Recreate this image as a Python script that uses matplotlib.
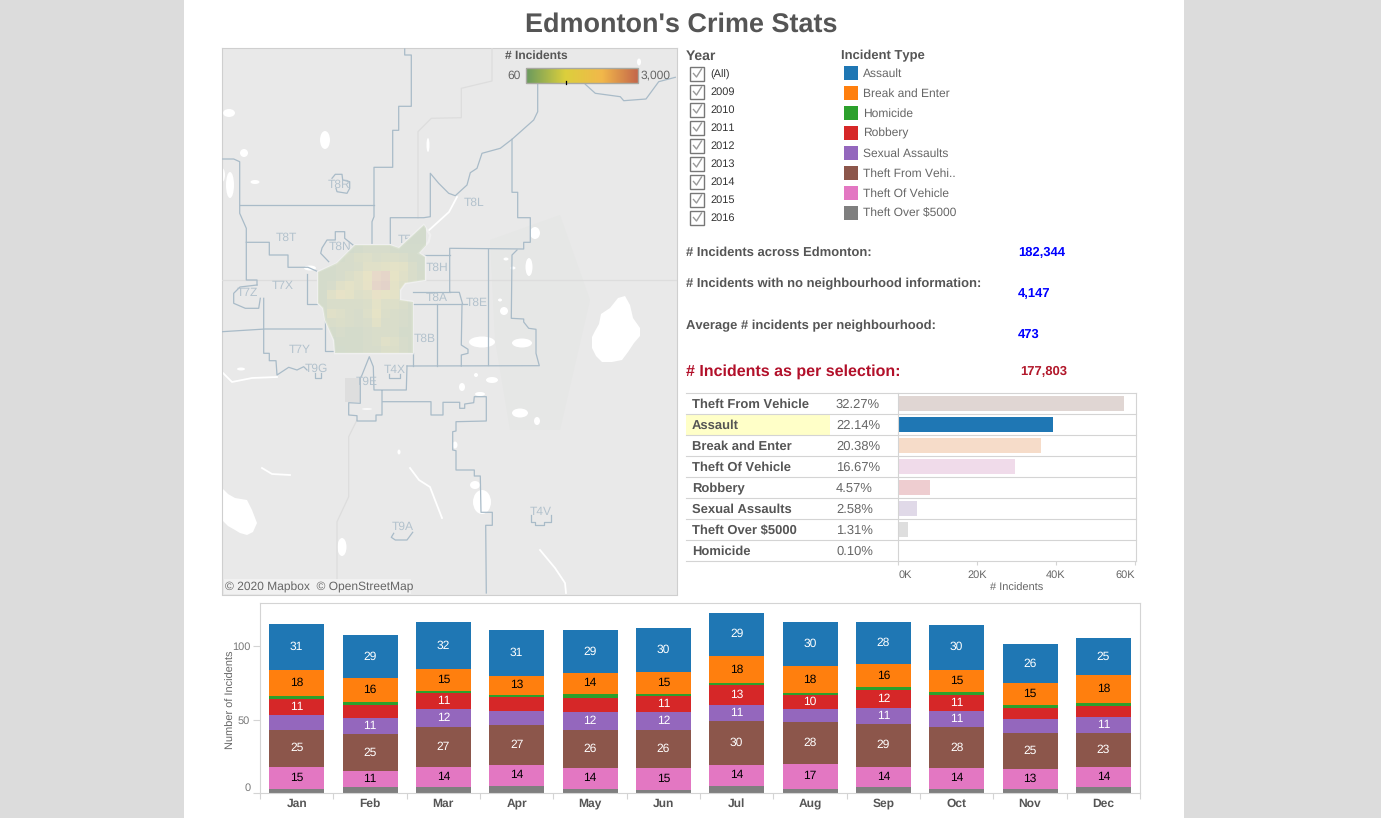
import numpy as np
import matplotlib
matplotlib.use('Agg')
import matplotlib.pyplot as plt
from matplotlib.colors import LinearSegmentedColormap, Normalize
from matplotlib.patches import Ellipse, Polygon, Rectangle

plt.rcParams['font.family'] = ['Liberation Sans', 'DejaVu Sans']
plt.rcParams['text.hinting'] = 'no_hinting'
plt.rcParams['text.hinting_factor'] = 1

W, H = 1381, 818

months = ['Jan', 'Feb', 'Mar', 'Apr', 'May', 'Jun', 'Jul', 'Aug', 'Sep', 'Oct', 'Nov', 'Dec']
years = ['(All)', '2009', '2010', '2011', '2012', '2013', '2014', '2015', '2016']

# stacked monthly bars, bottom to top (labels only show from 10 up)
theft_over = [3, 4, 4, 5, 3, 2, 5, 3, 4, 3, 3, 4]
theft_of_vehicle = [15, 11, 14, 14, 14, 15, 14, 17, 14, 14, 13, 14]
theft_from_vehicle = [25, 25, 27, 27, 26, 26, 30, 28, 29, 28, 25, 23]
sexual_assaults = [9.9, 11, 12, 9.5, 12, 12, 11, 9, 11, 11, 9.5, 11]
robbery = [11, 9, 11, 9.9, 9.9, 11, 13.4, 10, 12, 11, 7.5, 7.5]
homicide = [2, 2, 1.4, 1.4, 2.7, 1.4, 1.5, 0.7, 2, 2, 2, 2]
break_enter = [18, 16, 15, 13, 14, 15, 18.4, 18.4, 16, 15, 15, 18.5]
assault = [31, 29.5, 32, 31, 29.4, 30, 29.4, 30.4, 28.5, 30.4, 26.5, 25.6]

type_names = ['Assault', 'Break and Enter', 'Homicide', 'Robbery', 'Sexual Assaults',
              'Theft From Vehi..', 'Theft Of Vehicle', 'Theft Over $5000']
type_colors = ['#1f77b4', '#ff7f0e', '#2ca02c', '#d62728', '#9467bd', '#8c564b', '#e377c2', '#7f7f7f']

# ranking table
rank_names = ['Theft From Vehicle', 'Assault', 'Break and Enter', 'Theft Of Vehicle',
              'Robbery', 'Sexual Assaults', 'Theft Over $5000', 'Homicide']
rank_pct = ['32.27%', '22.14%', '20.38%', '16.67%', '4.57%', '2.58%', '1.31%', '0.10%']
rank_counts = [57377, 39366, 36236, 29640, 8126, 4587, 2329, 178]
rank_colors = ['#e0d6d3', '#1f77b4', '#f6dcc9', '#f0dbea', '#eecdd0', '#e0d9e8', '#dedede', '#eef6ee']

# map geometry, in map units
map_borders = [
    [(404.7, 49), (404.7, 55), (411.3, 55), (411.3, 106.3), (398.7, 106.3), (398.7, 130.3), (392.7, 130.3),
     (392.7, 167.3), (374, 167.3), (374, 216.7), (372, 221.7), (372, 245)],
    [(239.7, 205.3), (374, 205.3)],
    [(222, 159), (233.7, 159), (239.7, 161.7), (239.7, 213.3), (246.3, 228.3), (246.3, 280), (257, 280), (257, 285)],
    [(246.3, 242.3), (269.3, 242.3), (269.3, 255), (288, 255), (288, 267.3), (308, 267.3), (318, 271.7)],
    [(306.7, 274.3), (306.7, 304.3), (318, 304.3)],
    [(353, 245), (344.7, 238.3), (344.7, 231.7), (335.3, 231.7), (335.3, 240), (327, 240), (322, 248),
     (320.7, 253.3), (328.7, 261.7)],
    [(332, 178.3), (335.3, 174.3), (342, 174.3), (342.7, 180), (349.7, 181.7), (349.7, 188.3), (347, 193.3),
     (337, 191.7), (336, 188.3)],
    [(537.7, 83.3), (537.7, 111.7), (533.7, 120), (512, 139.3), (500.3, 148.3), (482, 153.3), (477, 168.3),
     (470.3, 172.7), (467, 185), (455.3, 195.7), (448.7, 193.3), (438.7, 183.3), (430.3, 173.3), (430.3, 216.7),
     (423.7, 217.7), (390.3, 217.7), (390.3, 245)],
    [(512, 139.3), (512, 192.3), (517.7, 192.3), (517.7, 217.7), (530.3, 217.7), (530.3, 242.3), (523.7, 242.3),
     (523.7, 249), (449.7, 248.3), (449.7, 292.3), (459.3, 292.3), (462.7, 304.3)],
    [(412.7, 292.3), (449.7, 292.3)],
    [(412.7, 304.3), (467, 304.3)],
    [(423.7, 255), (449.7, 255)],
    [(487.7, 249), (487.7, 365)],
    [(517, 250), (512, 255), (511.3, 318.3), (523.7, 319), (523.7, 322), (528.7, 328.3), (536, 329.3),
     (536, 353.3), (539.3, 365.7), (407, 366)],
    [(437, 304.3), (437, 366)],
    [(462, 304.3), (461.3, 345), (468, 349.3), (468, 353.3), (461.3, 355), (461.3, 366)],
    [(412.7, 353), (412.7, 366)],
    [(407, 366), (406.3, 390), (374, 390), (373.3, 366.7), (369.3, 356.7), (362, 375), (360.3, 378.3),
     (360.3, 403.3), (348.7, 402.7), (348.7, 415), (357, 415.7), (357, 421), (376, 421), (376, 415), (382, 415),
     (382, 391)],
    [(382.7, 401.7), (431, 401.7), (431, 415), (443, 415), (443, 402.3), (459.7, 402.3), (459.7, 408.3),
     (464.7, 408.3), (464.7, 404), (473.7, 402.7), (474.3, 396.7), (486.3, 396.7), (486.3, 421), (456, 421.7),
     (456, 431), (452.7, 431.7), (452.7, 450), (456, 450.7), (456, 470), (474.3, 470), (474.3, 476), (480.3, 476),
     (481, 512.3), (492.3, 512.3), (492.3, 525.3), (485.7, 525.3), (486.3, 593)],
    [(585.3, 84.3), (595.3, 93.3), (620.3, 96.7), (623.7, 100.7), (646, 99), (658.7, 81.7), (675.3, 77.3)],
    [(263.7, 298.3), (263.7, 353.3), (269.3, 353.3), (269.3, 360.7), (276, 360.7), (277, 375), (288.7, 367.3),
     (297, 370), (303.7, 366.7), (307, 370)],
    [(222, 331.7), (265.3, 329), (322, 329)],
    [(325.3, 320), (325.3, 350.7), (333.7, 350.7)],
    [(257, 285), (240, 287), (233.7, 293.3), (233.7, 303.3), (245.3, 308.3), (258.7, 308.3), (260.3, 298.3)],
    [(314.7, 372.7), (314.7, 378.3), (320.7, 378.3), (320.7, 372.7)],
    [(388.7, 374), (388.7, 378.3), (400.3, 378.3), (400.3, 374)],
    [(531.3, 515), (531.3, 521.7), (535.3, 521.7), (535.3, 525), (543.7, 525), (543.7, 521.7), (551.3, 521.7),
     (551.3, 515)],
    [(393.7, 533.3), (391.3, 537.3), (395.3, 540), (407, 540), (412.7, 532.3)],
]
map_roads = [
    [(357, 420), (348.7, 436.7), (348.7, 496.7), (337, 521.7), (337, 593)],
    [(492, 48), (492, 81), (461.3, 88.3), (461.3, 117.7), (431.3, 118.3), (418, 131.7), (418, 218)],
    [(222, 280), (677, 280)],
]
map_rivers = [
    [(410, 468), (419, 480), (430, 487), (435, 500), (442, 518)],
    [(540, 550), (555, 568), (565, 583), (566, 593)],
    [(222, 372), (232, 382), (252, 378), (277, 377)],
    [(457, 197), (449, 212), (427, 232)],
    [(262, 468), (272, 474), (290, 475)],
]
map_lakes = [
    [(601, 314), (610, 308), (618, 298), (625, 296), (630, 305), (633, 318), (640, 328), (640, 336), (634, 343),
     (628, 352), (622, 360), (612, 362), (602, 362), (596, 356), (592, 348), (592, 337), (595, 331), (599, 324)],
    [(222, 488), (228, 494), (235, 498), (247, 500), (252, 510), (257, 523), (253, 532), (247, 535), (240, 533),
     (235, 530), (228, 526), (222, 520)],
]
map_ponds = [
    (325, 140, 10, 18), (244, 153, 8, 8), (229, 113, 12, 8), (230, 185, 8, 26), (255, 182, 9, 4),
    (535, 233, 10, 12), (529, 267, 7, 18), (504, 311, 8, 8), (482, 342, 26, 11), (522, 343, 20, 9),
    (492, 380, 12, 6), (520, 413, 16, 9), (537, 421, 6, 8), (462, 387, 6, 8), (480, 394, 10, 4),
    (475, 485, 10, 8), (482, 502, 18, 24), (342, 547, 9, 18), (241, 369, 8, 3), (367, 409, 10, 1.5),
    (639, 62, 4, 7), (428, 145, 3, 14), (506, 259, 5, 3), (310, 268, 12, 5), (222, 175, 6, 14),
    (513, 268, 5, 3), (500, 300, 4, 3), (476, 375, 4, 4), (455, 445, 5, 7), (399, 452, 3, 5),
]
map_codes = [('T8R', 339, 184), ('T8L', 474, 202), ('T8T', 286, 237), ('T8N', 340, 246), ('T7X', 283, 285),
             ('T7Z', 247, 292), ('T8H', 437, 267), ('T8A', 437, 297), ('T8E', 477, 302), ('T8B', 425, 338),
             ('T7Y', 300, 349), ('T9G', 316, 368), ('T9E', 367, 381), ('T4X', 395, 369), ('T4V', 541, 511),
             ('T9A', 403, 526), ('T5', 405, 239)]
city_outline = [(318, 271.7), (337, 263.3), (355.3, 245), (390.3, 245), (398.7, 248.3), (423.7, 225), (430.3, 235),
                (428.7, 241.7), (418.7, 253.3), (425.3, 256.7), (425.3, 280), (405.3, 283.3), (400.3, 290),
                (400.3, 300), (412.7, 301.7), (412.7, 353.3), (335, 353.3), (333.7, 340), (325.3, 320), (323, 308),
                (318, 303.3)]
# incidents per block of the city, rows north to south
city_grid = [
    [150, 150, 150, 150, 150, 150, 150, 150, 150, 150, 200, 200],
    [150, 150, 150, 150, 150, 150, 200, 200, 200, 200, 200, 200],
    [200, 200, 200, 200, 300, 400, 400, 400, 300, 250, 250, 250],
    [200, 200, 300, 400, 600, 700, 500, 600, 600, 500, 300, 250],
    [250, 300, 400, 400, 500, 800, 800, 900, 1000, 900, 500, 250],
    [300, 300, 400, 600, 800, 1200, 2400, 2600, 1100, 800, 500, 300],
    [300, 400, 800, 1000, 800, 1400, 2600, 2800, 1000, 700, 400, 300],
    [300, 800, 1300, 1000, 700, 800, 1500, 1100, 1000, 500, 300, 300],
    [300, 500, 500, 500, 500, 600, 1000, 700, 700, 500, 300, 300],
    [300, 800, 700, 500, 400, 700, 1100, 600, 500, 400, 300, 300],
    [300, 500, 600, 500, 400, 500, 900, 500, 500, 400, 300, 300],
    [250, 300, 400, 300, 300, 400, 500, 500, 500, 300, 300, 300],
    [200, 200, 300, 300, 300, 400, 500, 800, 700, 400, 300, 300],
    [200, 200, 250, 300, 300, 400, 400, 600, 600, 400, 300, 300],
]

stat_labels = ['# Incidents across Edmonton:', '# Incidents with no neighbourhood information:',
               'Average # incidents per neighbourhood:']
stat_values = ['182,344', '4,147', '473']

GREY = '#555555'
SOFT = '#666666'
LINE = '#d4d4d4'


def px(size):
    # font size in screen pixels to points
    return size * 72.0 / 100.0


def axes_px(fig, left, top, right, bottom):
    return fig.add_axes([left / W, 1 - bottom / H, (right - left) / W, (bottom - top) / H])


def draw_map(fig):
    ax = axes_px(fig, 222, 48, 676.5, 594.5)
    ax.set_facecolor('#e9e9e9')
    ax.set_xticks([])
    ax.set_yticks([])
    for spine in ax.spines.values():
        spine.set_color('#cfcfcf')

    ax.add_patch(Polygon([(490, 240), (560, 215), (590, 300), (560, 430), (510, 430), (495, 340)],
                         fc='#e6e7e6', ec='none', zorder=1))
    ax.add_patch(Rectangle((345, 378), 15, 24, fc='#dedede', ec='none', zorder=1))

    for lake in map_lakes:
        ax.add_patch(Polygon(lake, fc='white', ec='none', zorder=2))
    for x, y, w, h in map_ponds:
        ax.add_patch(Ellipse((x, y), w, h, fc='white', ec='none', zorder=2))
    for line in map_rivers:
        xs, ys = zip(*line)
        ax.plot(xs, ys, color='white', lw=1.3, zorder=2)
    for line in map_roads:
        xs, ys = zip(*line)
        ax.plot(xs, ys, color='#dddddd', lw=0.9, zorder=3)
    for line in map_borders:
        xs, ys = zip(*line)
        ax.plot(xs, ys, color='#a9bbc8', lw=0.9, zorder=4)
    for code, x, y in map_codes:
        ax.text(x, y + 1, code, color='#b3c2cd', fontsize=px(12), ha='center', va='center', zorder=5)

    cmap = LinearSegmentedColormap.from_list('incidents', [(0, '#6a9a5e'), (0.35, '#dccf3c'),
                                                           (0.68, '#f2b84b'), (1, '#c4674a')])
    grid = np.array(city_grid, dtype=float)
    xs = 318 + 9.0 * np.arange(grid.shape[1] + 1)
    ys = 225 + 9.3 * np.arange(grid.shape[0] + 1)
    shape = Polygon(city_outline, fc='#e9e9e9', ec='#f0f0f0', lw=1.6, zorder=6)
    ax.add_patch(shape)
    mesh = ax.pcolormesh(xs, ys, grid, cmap=cmap, norm=Normalize(60, 3000), alpha=0.2, zorder=7,
                         edgecolors='none', linewidth=0)
    mesh.set_clip_path(shape)

    # attribution and colour legend
    ax.add_patch(Rectangle((224, 579), 187, 15, fc='#f2f2f2', ec='none', alpha=0.9, zorder=8))
    ax.text(225, 587, '\u00a9 2020 Mapbox  \u00a9 OpenStreetMap', color=SOFT, fontsize=px(11.6),
            va='center', zorder=9)
    ax.text(505, 55.5, '# Incidents', color=GREY, fontsize=px(12), fontweight='bold', va='center', zorder=9)
    ax.text(521, 75.5, '60', color=SOFT, fontsize=px(12.2), ha='right', va='center', zorder=9)
    ax.text(641, 75.5, '3,000', color=SOFT, fontsize=px(12.2), va='center', zorder=9)
    ax.imshow(np.linspace(0, 1, 200).reshape(1, -1), cmap=cmap, extent=(525.5, 637.5, 83, 68.5), aspect='auto',
              zorder=9)
    ax.add_patch(Rectangle((525.5, 68.5), 112, 14.5, fc='none', ec='#a8a8a0', lw=1, zorder=10))
    ax.plot([565.5, 565.5], [81, 84], color='black', lw=0.9, zorder=11)
    ax.set_xlim(222, 676.5)
    ax.set_ylim(594.5, 48)


def draw_filters(ax):
    ax.text(686, 56, 'Year', color=GREY, fontsize=px(13.5), fontweight='bold', va='center')
    for i, year in enumerate(years):
        y = 74 + 18 * i
        ax.add_patch(Rectangle((690.5, y - 7.5), 13.5, 14, fc='white', ec='#777777', lw=1))
        ax.plot([693.5, 696.5, 701.5], [y - 0.5, y + 3, y - 5], color='#999999', lw=1)
        ax.text(710, y + 0.5, year, color='#333333', fontsize=px(10.8), va='center')

    ax.text(841, 56, 'Incident Type', color=GREY, fontsize=px(13.4), fontweight='bold', va='center')
    for i, (name, color) in enumerate(zip(type_names, type_colors)):
        y = 73 + 20 * i
        ax.add_patch(Rectangle((844, y - 7), 14, 14, fc=color, ec='none'))
        ax.text(863, y + 0.5, name, color=SOFT, fontsize=px(12), va='center')


def draw_stats(ax):
    label_y = [252.5, 284, 325.5]
    value_y = [252.5, 294, 334]
    label_size = [12.8, 13.2, 13.2]
    for label, value, ly, vy, size in zip(stat_labels, stat_values, label_y, value_y, label_size):
        ax.text(686, ly, label, color=GREY, fontsize=px(size), fontweight='bold', va='center')
        ax.text(1018, vy, value, color='#0000ff', fontsize=px(12.6), fontweight='bold', va='center')
    ax.text(686, 372, '# Incidents as per selection:', color='#b2102a', fontsize=px(16), fontweight='bold',
            va='center')
    ax.text(1020.5, 372, '177,803', color='#b2182b', fontsize=px(12.6), fontweight='bold', va='center')


def draw_rank_table(fig, ax):
    row_h = 21.0
    top = 392.5
    ax.add_patch(Rectangle((686, top + row_h), 144, row_h, fc='#ffffc8', ec='none', zorder=0))
    for i in range(len(rank_names) + 1):
        ax.plot([686, 1136], [top + 0.5 + i * row_h] * 2, color=LINE, lw=0.8, zorder=1)
    for i, (name, pct) in enumerate(zip(rank_names, rank_pct)):
        y = top + (i + 0.5) * row_h + 1.5
        ax.text(692, y, name, color=GREY, fontsize=px(12.8), fontweight='bold', va='center')
        ax.text(836, y, pct, color=SOFT, fontsize=px(12.6), va='center')

    bars = axes_px(fig, 898.5, top + 0.5, 1136, top + 0.5 + 8 * row_h)
    bars.patch.set_alpha(0)
    bars.barh(np.arange(len(rank_names)), rank_counts, height=0.76, color=rank_colors, zorder=2)
    bars.set_ylim(7.5, -0.5)
    bars.set_xlim(0, 237.5 / 78.7 * 20000)
    bars.set_yticks([])
    bars.set_xticks([0, 20000, 40000, 60000])
    bars.set_xticklabels(['0K', '20K', '40K', '60K'], color=SOFT, fontsize=px(11.5))
    bars.get_xticklabels()[0].set_ha('left')
    bars.get_xticklabels()[3].set_ha('right')
    bars.tick_params(axis='x', length=3, width=0.8, color=LINE, pad=3.5)
    for side in ['top', 'bottom']:
        bars.spines[side].set_visible(False)
    for side in ['left', 'right']:
        bars.spines[side].set_color(LINE)
        bars.spines[side].set_linewidth(0.8)
    ax.text(1016.7, 588, '# Incidents', color=SOFT, fontsize=px(11), ha='center', va='center')


def draw_months(fig):
    ax = axes_px(fig, 260, 603, 1140, 793)
    x = np.arange(len(months))
    stack = [
        (theft_over, type_colors[7], 'white'),
        (theft_of_vehicle, type_colors[6], 'black'),
        (theft_from_vehicle, type_colors[5], 'white'),
        (sexual_assaults, type_colors[4], 'white'),
        (robbery, type_colors[3], 'white'),
        (homicide, type_colors[2], 'white'),
        (break_enter, type_colors[1], 'black'),
        (assault, type_colors[0], 'white'),
    ]
    bottom = np.zeros(len(months))
    for values, color, text_color in stack:
        values = np.array(values, dtype=float)
        ax.bar(x, values, width=0.75, bottom=bottom, color=color, linewidth=0)
        for i, v in enumerate(values):
            if v >= 10:
                ax.text(x[i], bottom[i] + v / 2, '%d' % v, color=text_color, fontsize=px(12),
                        ha='center', va='center')
        bottom += values

    ax.set_xlim(-0.5, 11.5)
    ax.set_ylim(0, 190.0 / 1.47)
    ax.set_yticks([0, 50, 100])
    ax.tick_params(axis='y', length=5, width=0.8, color=LINE, labelcolor='#777777', labelsize=px(11.3), pad=2)
    ax.get_yticklabels()[0].set_va('bottom')
    ax.set_xticks(np.arange(-0.5, 12, 1))
    ax.set_xticklabels([])
    ax.tick_params(axis='x', length=4, width=0.8, color=LINE)
    for i, month in enumerate(months):
        ax.annotate(month, (i, 0), xycoords=('data', 'axes fraction'), xytext=(0, -7.5),
                    textcoords='offset points', color=GREY, fontsize=px(12), fontweight='bold',
                    ha='center', va='center')
    for spine in ax.spines.values():
        spine.set_color(LINE)
    ax.set_ylabel('Number of Incidents', color=SOFT, fontsize=px(11.5))
    ax.yaxis.set_label_coords(-24.0 / 880.0, 0.49)


def main():
    fig = plt.figure(figsize=(W / 100.0, H / 100.0), dpi=100, facecolor='#dcdcdc')

    page = fig.add_axes([0, 0, 1, 1])
    page.set_xlim(0, W)
    page.set_ylim(H, 0)
    page.axis('off')
    page.add_patch(Rectangle((184, 0), 1000, H, fc='white', ec='none', zorder=0))
    page.text(681, 25, "Edmonton's Crime Stats", color=GREY, fontsize=px(27), fontweight='bold',
              ha='center', va='center')

    draw_map(fig)
    draw_filters(page)
    draw_stats(page)
    draw_rank_table(fig, page)
    draw_months(fig)

    fig.savefig('out.png', dpi=100, facecolor=fig.get_facecolor())


if __name__ == '__main__':
    main()
